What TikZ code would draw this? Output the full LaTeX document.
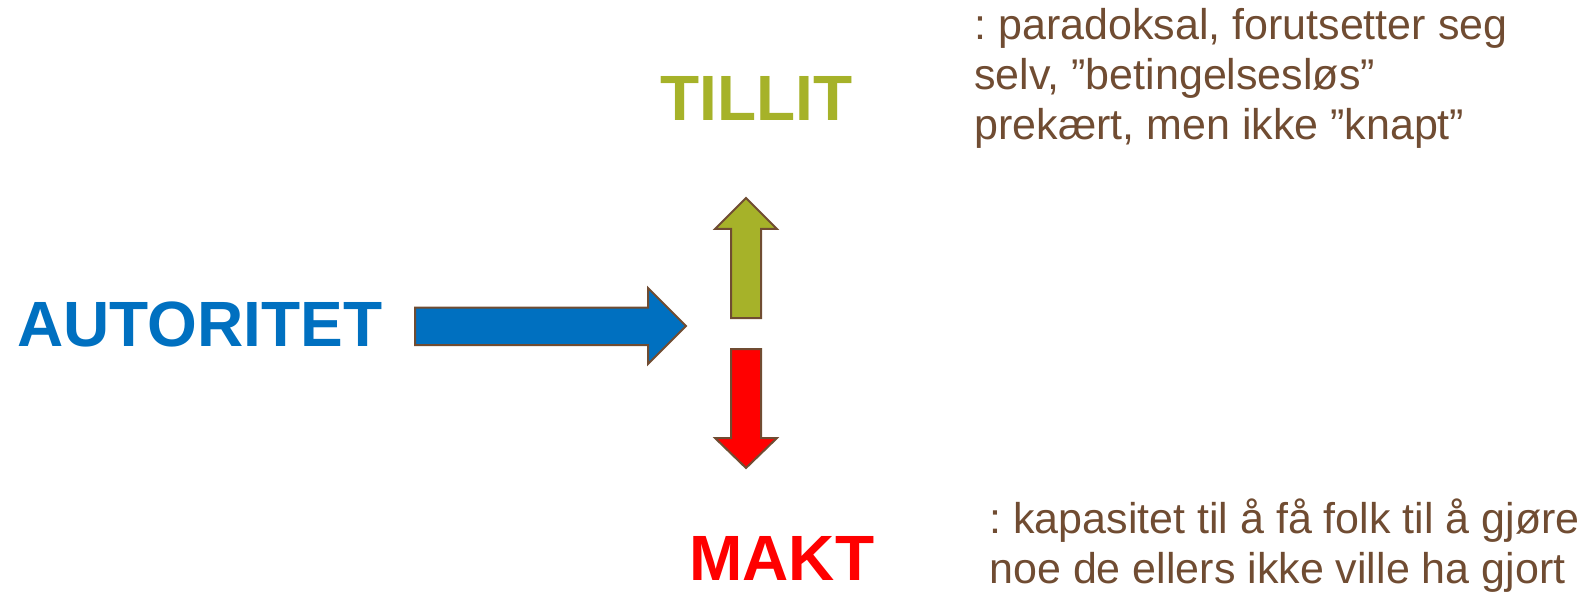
\documentclass[tikz,border=0pt]{standalone}
\usepackage{fontspec}
\setmainfont{Liberation Sans}
\frenchspacing
\definecolor{txtbrown}{RGB}{112,76,50}
\definecolor{autblue}{RGB}{0,112,192}
\definecolor{tilgreen}{RGB}{166,178,41}
\definecolor{maktred}{RGB}{255,0,0}
\begin{document}
\begin{tikzpicture}[x=0.5pt,y=-0.5pt,
  bigword/.style={inner sep=0pt,anchor=base west,font=\fontsize{32}{38}\selectfont\bfseries},
  note/.style={inner sep=0pt,anchor=base west,align=left,font=\fontsize{21.5}{25}\selectfont\frenchspacing,text=txtbrown},
  blockarrow/.style={draw=txtbrown,line width=1pt,line join=miter}]
\useasboundingbox (0,0) rectangle (1594,593);
% words
\node[bigword,text=autblue] (aut) at (17,346) {AUTORITET};
\node[bigword,text=tilgreen] (til) at (660,121) {TILLIT};
\node[bigword,text=maktred] (makt) at (689,580) {MAKT};
% notes (anchored at the baseline of the last line)
\node[note] (tilnote) at (974,140) {: paradoksal, forutsetter seg\\selv, ”betingelsesløs”\\prekært, men ikke ”knapt”};
\node[note] (maktnote) at (989,583) {: kapasitet til å få folk til å gjøre\\noe de ellers ikke ville ha gjort};
% arrows
\draw[blockarrow,fill=autblue] (415,307.5) -- (648,307.5) -- (648,288) -- (686,326) -- (648,364) -- (648,345) -- (415,345) -- cycle;
\draw[blockarrow,fill=tilgreen] (731,318) -- (731,229) -- (715,229) -- (746,198) -- (777,229) -- (761,229) -- (761,318) -- cycle;
\draw[blockarrow,fill=maktred] (731,349) -- (731,438) -- (715,438) -- (746,468) -- (777,438) -- (761,438) -- (761,349) -- cycle;
\end{tikzpicture}
\end{document}
